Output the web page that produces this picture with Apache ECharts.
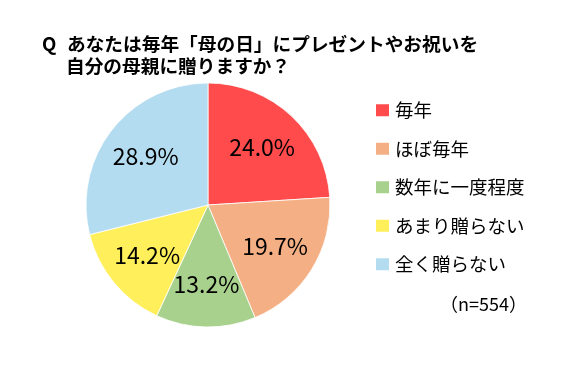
<!DOCTYPE html>
<html><head><meta charset="utf-8">
<script src="https://cdn.jsdelivr.net/npm/echarts@6/dist/echarts.min.js"></script>
<style>html,body{margin:0;padding:0;background:#fff}#c{width:571px;height:365px}</style>
</head><body><div id="c"></div>
<script>
const titleQ = 'Q';
const titleLine1 = 'あなたは毎年「母の日」にプレゼントやお祝いを';
const titleLine2 = '自分の母親に贈りますか？';
const categories = ['毎年', 'ほぼ毎年', '数年に一度程度', 'あまり贈らない', '全く贈らない'];
const values = [24.0, 19.7, 13.2, 14.2, 28.9];
const colors = ['#FF4B4B', '#F4B084', '#A9D18E', '#FFEF5B', '#B4DCF0'];
const note = '（n=554）';

const font = '"Noto Sans CJK JP", sans-serif';
const chart = echarts.init(document.getElementById('c'), null, {renderer: 'canvas'});
const data = categories.map((c, i) => ({name: c, value: values[i], itemStyle: {color: colors[i]}}));
chart.setOption({
  animation: false,
  graphic: [
    {type: 'text', left: 42, top: 35, style: {text: titleQ, font: 'bold 18.7px ' + font, fill: '#000'}},
    {type: 'text', left: 67, top: 35, style: {text: titleLine1, font: 'bold 18.7px ' + font, fill: '#000'}},
    {type: 'text', left: 66, top: 57, style: {text: titleLine2, font: 'bold 18.7px ' + font, fill: '#000'}},
    {type: 'text', left: 440, top: 295, style: {text: note, font: '18px ' + font, fill: '#000'}}
  ],
  legend: {
    orient: 'vertical', left: 376, top: 101, padding: 0,
    itemWidth: 13, itemHeight: 12, itemGap: 20, itemStyle: {borderWidth: 0},
    icon: 'rect',
    data: categories,
    textStyle: {fontFamily: font, fontSize: 18.5, color: '#000', padding: [0, 0, 0, 1]}
  },
  series: [
    {
      type: 'pie', center: [208, 205], radius: [0, 122], startAngle: 90, clockwise: true,
      label: {show: false}, labelLine: {show: false}, silent: true,
      itemStyle: {borderColor: '#fff', borderWidth: 0.8},
      data: data
    },
    {
      type: 'pie', center: [208, 205], radius: [30, 122], startAngle: 90, clockwise: true,
      silent: true, legendHoverLink: false,
      itemStyle: {color: 'rgba(0,0,0,0)'},
      label: {show: true, position: 'inside', formatter: p => p.value.toFixed(1) + '%',
        fontFamily: font, fontSize: 23, color: '#000'},
      data: categories.map((c, i) => ({name: c + ' ', value: values[i]}))
    }
  ]
});
</script></body></html>
